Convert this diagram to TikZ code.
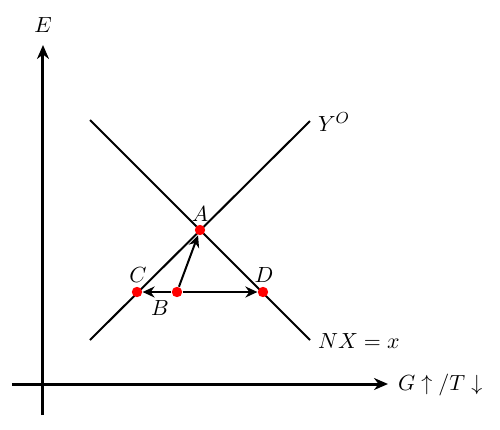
\documentclass[tikz,border=0pt]{standalone}
\usetikzlibrary{arrows.meta}
\begin{document}
\begin{tikzpicture}[x=0.5pt,y=-0.5pt,font=\fontsize{11.2}{13}\selectfont,
  axis/.style={line width=1.5pt,-{Stealth[length=7pt,width=6pt]}},
  curve/.style={line width=1pt},
  vec/.style={line width=1pt,-{Stealth[length=6pt,width=5.5pt]}},
  dot/.style={circle,fill=red,inner sep=0pt,minimum size=5.2pt}]
\useasboundingbox (0,0) rectangle (500,430);
\coordinate (yb) at (43,415);
\coordinate (yt) at (43,45);
\coordinate (xl) at (12,384);
\coordinate (xr) at (388,384);
\draw[axis] (yb) -- (yt);
\draw[axis] (xl) -- (xr);
\node (E) at (43,25) {$E$};
\node[anchor=west] (G) at (391,385) {$G\uparrow/T\downarrow$};
\coordinate (y1) at (90,340);
\coordinate (y2) at (310,121);
\coordinate (n1) at (90,120);
\coordinate (n2) at (310,340);
\draw[curve] (y1) -- (y2);
\draw[curve] (n1) -- (n2);
\node[anchor=west] (YO) at (311,122) {$Y^O$};
\node[anchor=west] (NX) at (311,341) {$NX=x$};
\node[dot] (A) at (200,230) {};
\node[dot] (C) at (137,292) {};
\node[dot] (D) at (263,292) {};
\node[dot] (B) at (177,292) {};
\draw[vec] (B) -- (A);
\draw[vec] (B) -- (C);
\draw[vec] (B) -- (D);
\node (lA) at (200,214) {$A$};
\node (lC) at (138,275) {$C$};
\node (lD) at (264,275) {$D$};
\node (lB) at (160,308) {$B$};
\end{tikzpicture}
\end{document}
